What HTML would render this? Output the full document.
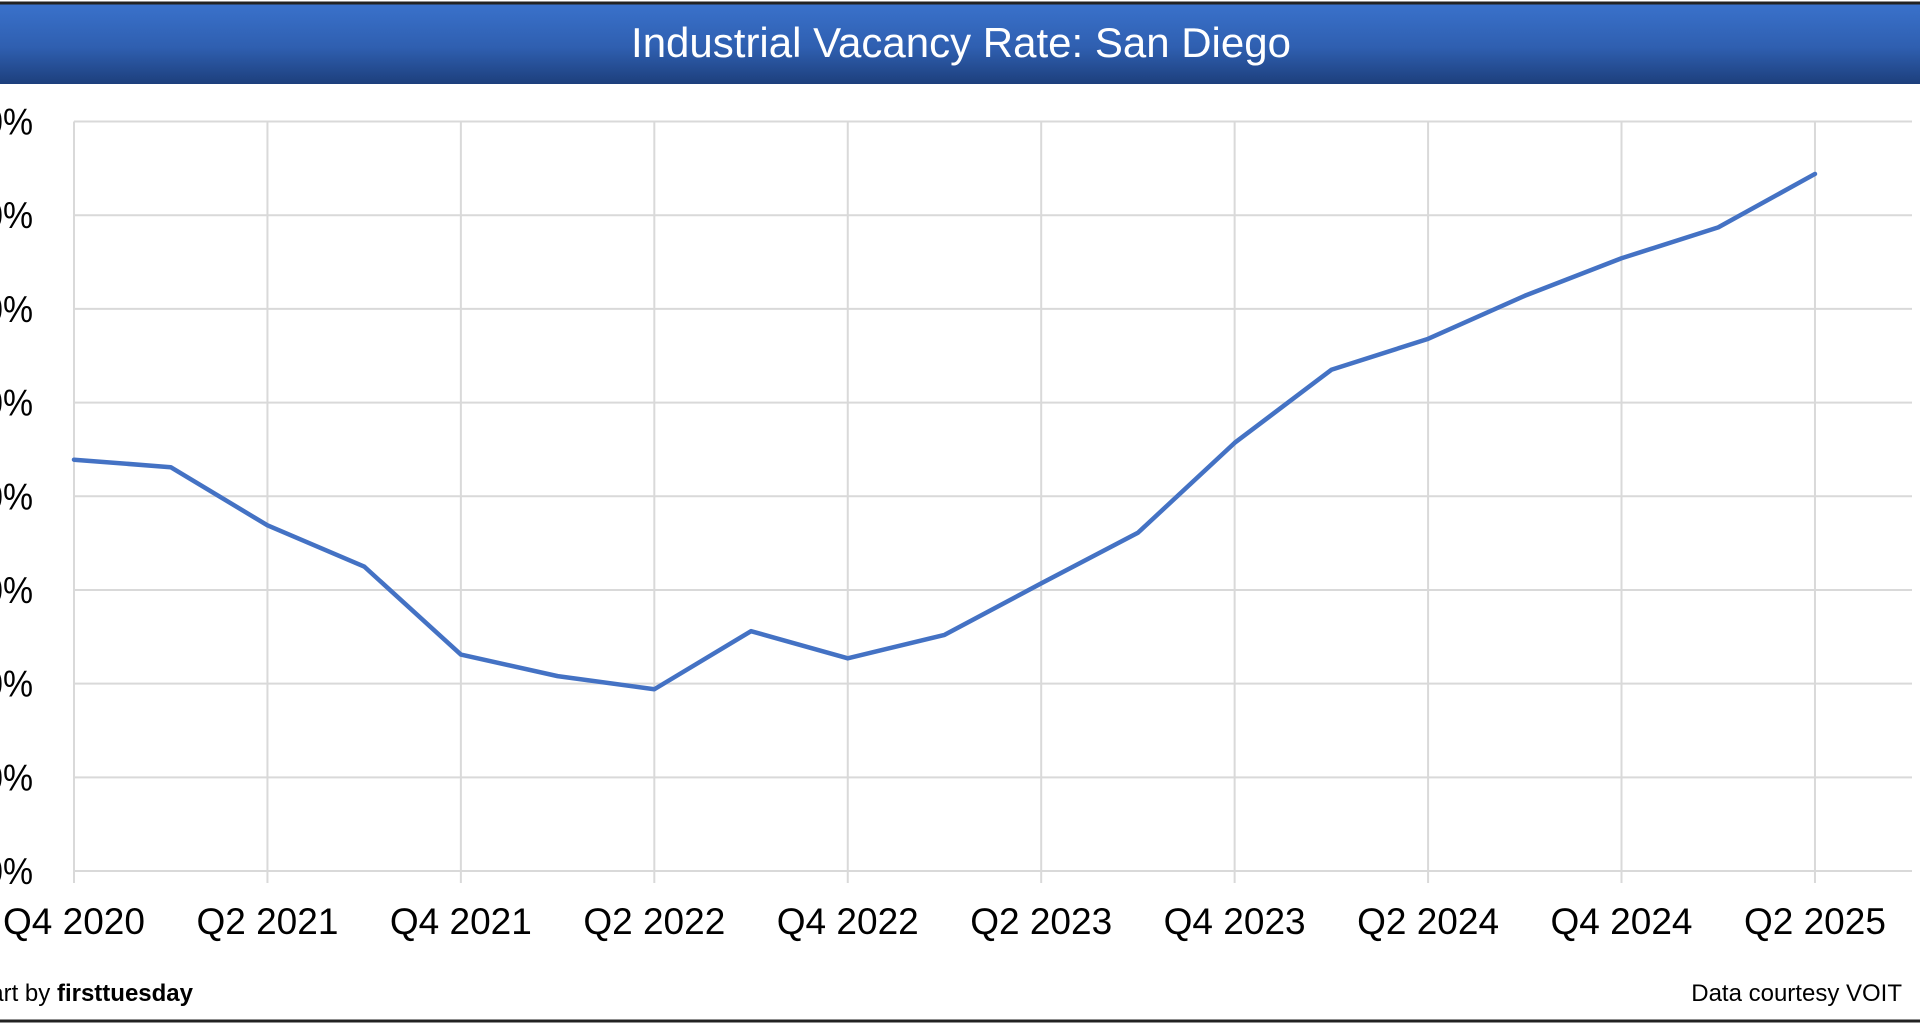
<!DOCTYPE html>
<html><head><meta charset="utf-8"><style>
html,body{margin:0;padding:0;background:#fff;}
body{width:1920px;height:1024px;overflow:hidden;position:relative;font-family:"Liberation Sans",sans-serif;}
</style></head><body>
<svg id="chart" width="1920" height="1024" xmlns="http://www.w3.org/2000/svg" style="position:absolute;left:0;top:0">
<defs><linearGradient id="tg" x1="0" y1="0" x2="0" y2="1">
<stop offset="0" stop-color="#3a72cc"/><stop offset="0.55" stop-color="#2f5fb0"/><stop offset="1" stop-color="#1d3f7c"/></linearGradient></defs>
<rect x="0" y="3" width="1920" height="81" fill="url(#tg)"/>
<line x1="0" y1="3" x2="1920" y2="3" stroke="#222" stroke-width="3"/>
<line x1="0" y1="1021" x2="1920" y2="1021" stroke="#222" stroke-width="3"/>
<text x="961" y="57" text-anchor="middle" fill="#fff" font-family="Liberation Sans, sans-serif" font-size="42">Industrial Vacancy Rate: San Diego</text>
<g id="grid"></g><g id="yt"></g><g id="xt"></g><g id="series"></g>
<text x="193" y="1001" text-anchor="end" fill="#000" font-size="24">Chart by <tspan font-weight="bold">firsttuesday</tspan></text>
<text x="1902" y="1001" text-anchor="end" fill="#000" font-size="24">Data courtesy VOIT</text>
</svg>
<script>
const categories=["Q4 2020","Q1 2021","Q2 2021","Q3 2021","Q4 2021","Q1 2022","Q2 2022","Q3 2022","Q4 2022","Q1 2023","Q2 2023","Q3 2023","Q4 2023","Q1 2024","Q2 2024","Q3 2024","Q4 2024","Q1 2025","Q2 2025"];
const vacancy=[4.39,4.31,3.69,3.25,2.31,2.08,1.94,2.56,2.27,2.52,3.07,3.61,4.57,5.35,5.68,6.14,6.54,6.87,7.44];
const yTicks=[0,1,2,3,4,5,6,7,8];
const yTickLabels=["0.0%","1.0%","2.0%","3.0%","4.0%","5.0%","6.0%","7.0%","8.0%"];
const xLabelIdx=[0,2,4,6,8,10,12,14,16,18];
const NS="http://www.w3.org/2000/svg";
const L=74,R=1912,T=121.5,B=871,yMin=0,yMax=8,step=96.72;
const xs=i=>L+i*step;
const ys=v=>B-(v-yMin)/(yMax-yMin)*(B-T);
function mk(t,a,p){const e=document.createElementNS(NS,t);for(const k in a)e.setAttribute(k,a[k]);p.appendChild(e);return e;}
const grid=document.getElementById('grid'),yt=document.getElementById('yt'),xt=document.getElementById('xt'),se=document.getElementById('series');
yTicks.forEach((v,i)=>{
 const g=mk('line',{x1:L,x2:R,y1:ys(v),y2:ys(v),stroke:'#d9d9d9','stroke-width':2},grid);
 
 
 const t=mk('text',{x:-44,y:ys(v)+13,'font-size':37,fill:'#000',textLength:77,lengthAdjust:'spacingAndGlyphs'},yt);
 t.textContent=yTickLabels[i];
 
 
});
xLabelIdx.forEach(i=>{
 const g=mk('line',{x1:xs(i),x2:xs(i),y1:T,y2:B+12,stroke:'#d9d9d9','stroke-width':2},grid);
 
 
 const t=mk('text',{x:xs(i),y:934,'text-anchor':'middle','font-size':37,fill:'#000'},xt);
 t.textContent=categories[i];
 
 
});
const pts=vacancy.map((v,i)=>xs(i)+','+ys(v)).join(' ');
const pl=mk('polyline',{points:pts,fill:'none',stroke:'#4472C4','stroke-width':4.5,'stroke-linejoin':'round','stroke-linecap':'round'},se);


</script>
</body></html>
